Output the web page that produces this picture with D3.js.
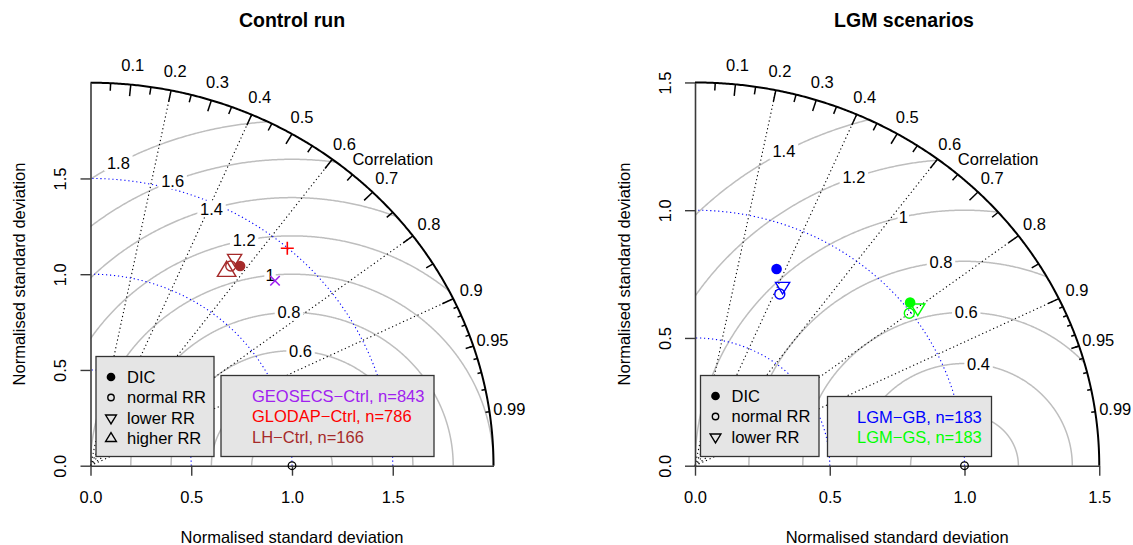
<!DOCTYPE html>
<html>
<head>
<meta charset="utf-8">
<script src="https://cdn.jsdelivr.net/npm/d3@7"></script>
<style>
  body { margin: 0; background: #fff; }
  svg { display: block; }
  text { font-family: "Liberation Sans", Arial, Helvetica, sans-serif; }
</style>
</head>
<body>
<svg id="chart" width="1133" height="545"></svg>
<script>
// ---- Control run: normalised standard deviation and correlation of each comparison
const ctrlLegend = ["GEOSECS−Ctrl, n=843", "GLODAP−Ctrl, n=786", "LH−Ctrl, n=166"];
const ctrlColors = ["#A020F0", "#FF0000", "#A52A2A"];
const ctrlSet    = [0, 1, 2, 2, 2, 2];
const ctrlKind   = ["cross", "plus", "dic", "normal", "lower", "higher"];
const ctrlSD     = [1.331, 1.498, 1.280, 1.254, 1.298, 1.2195];
const ctrlCor    = [0.688, 0.652, 0.580, 0.555, 0.551, 0.554];

// ---- LGM scenarios
const lgmLegend = ["LGM−GB, n=183", "LGM−GS, n=183"];
const lgmColors = ["#0000FF", "#00FF00"];
const lgmSet    = [0, 0, 0, 1, 1, 1];
const lgmKind   = ["dic", "normal", "lower", "dic", "normal", "lower"];
const lgmSD     = [0.827, 0.742, 0.774, 1.022, 0.994, 1.032];
const lgmCor    = [0.366, 0.424, 0.420, 0.781, 0.800, 0.801];

// symbol legend entries
const symbolNames = { dic: "DIC", normal: "normal RR", lower: "lower RR", higher: "higher RR" };

// grid values
const ctrlGamma = [0.2, 0.4, 0.6, 0.8, 1.0, 1.2, 1.4, 1.6, 1.8];
const lgmGamma  = [0.2, 0.4, 0.6, 0.8, 1.0, 1.2, 1.4];
const ctrlSdArcs = [0.5, 1.0, 1.5];
const lgmSdArcs  = [0.5, 1.0];
const sdTicks = [0, 0.5, 1.0, 1.5];
const corRays  = [0.2, 0.4, 0.6, 0.8, 0.9];
const corBig   = [0.1, 0.2, 0.3, 0.4, 0.5, 0.6, 0.7, 0.8, 0.9];
const corMed   = [0.05, 0.15, 0.25, 0.35, 0.45, 0.55, 0.65, 0.75, 0.85, 0.95];
const corSmall = [0.91, 0.92, 0.93, 0.94, 0.95, 0.96, 0.97, 0.98, 0.99];
const corLabels = [0.1, 0.2, 0.3, 0.4, 0.5, 0.6, 0.7, 0.8, 0.9, 0.95, 0.99];

const FS = 16.5;
const svg = d3.select("#chart");
const defs = svg.append("defs");
const line = d3.line();

function marker(sel, kind, color, s) {
  // s = symbol radius in px
  const w = 1.42 * s, up = 1.555 * s, dn = 0.778 * s;
  if (kind === "dic") {
    sel.append("circle").attr("r", s * 1.06).attr("fill", color);
  } else if (kind === "normal") {
    sel.append("circle").attr("r", s).attr("fill", "none").attr("stroke", color).attr("stroke-width", 1.4);
  } else if (kind === "lower") {
    sel.append("path").attr("d", line([[-w, -dn], [w, -dn], [0, up]]) + "Z")
      .attr("fill", "none").attr("stroke", color).attr("stroke-width", 1.4).attr("stroke-linejoin", "miter");
  } else if (kind === "higher") {
    sel.append("path").attr("d", line([[0, -up], [w, dn], [-w, dn]]) + "Z")
      .attr("fill", "none").attr("stroke", color).attr("stroke-width", 1.4).attr("stroke-linejoin", "miter");
  } else if (kind === "plus") {
    const a = 1.3 * s;
    sel.append("path").attr("d", `M${-a},0H${a}M0,${-a}V${a}`).attr("stroke", color).attr("stroke-width", 1.6);
  } else if (kind === "cross") {
    const a = 0.95 * s;
    sel.append("path").attr("d", `M${-a},${-a}L${a},${a}M${-a},${a}L${a},${-a}`).attr("stroke", color).attr("stroke-width", 1.6);
  }
}

const inside = (px, py, r) => px >= r.x && px <= r.x + r.w && py >= r.y && py <= r.y + r.h;

function taylorPanel(cfg) {
  const g = svg.append("g");
  const x = d3.scaleLinear().domain([0, cfg.maxsd]).range([cfg.x0, cfg.x0 + cfg.maxsd * cfg.kx]);
  const y = d3.scaleLinear().domain([0, cfg.maxsd]).range([cfg.y0, cfg.y0 - cfg.maxsd * cfg.ky]);
  const polar = (r, a) => [x(r * Math.cos(a)), y(r * Math.sin(a))];

  const rim = d3.range(0, 361).map(i => polar(cfg.maxsd, i / 360 * Math.PI / 2));
  defs.append("clipPath").attr("id", "clip-" + cfg.id)
    .append("path").attr("d", line(rim.concat([[x(0), y(0)]])) + "Z");

  // centred RMS difference contours around the reference point
  const arcs = g.append("g").attr("clip-path", `url(#clip-${cfg.id})`);
  cfg.gamma.forEach(gm => {
    const pts = d3.range(0, 721).map(i => {
      const t = i / 720 * Math.PI;
      return [x(cfg.ref + gm * Math.cos(t)), y(gm * Math.sin(t))];
    });
    arcs.append("path").attr("d", line(pts)).attr("fill", "none")
      .attr("stroke", "#bebebe").attr("stroke-width", 1.5);
  });

  // correlation rays
  corRays.forEach(c => {
    const [ex, ey] = polar(cfg.maxsd, Math.acos(c));
    g.append("line").attr("x1", x(0)).attr("y1", y(0)).attr("x2", ex).attr("y2", ey)
      .attr("stroke", "#000").attr("stroke-width", 1.1).attr("stroke-dasharray", "1.2 2.8");
  });

  // standard deviation arcs
  cfg.sdArcs.forEach(s => {
    const pts = d3.range(0, 361).map(i => polar(s, i / 360 * Math.PI / 2));
    g.append("path").attr("d", line(pts)).attr("fill", "none")
      .attr("stroke", "#0000FF").attr("stroke-width", 1.1).attr("stroke-dasharray", "1.2 2.8");
  });

  // contour labels on white boxes (those that the legends cover are left out)
  const n = cfg.gamma.length;
  cfg.gamma.forEach((gm, i) => {
    const pos = Math.floor(45 + 25 * i / (n - 1));
    const t = (pos - 1) * 0.03;
    const lx = x(cfg.ref + gm * Math.cos(t)), ly = y(gm * Math.sin(t));
    if (inside(lx, ly, cfg.legend1) || inside(lx, ly, cfg.legend2)) return;
    const lg = g.append("g").attr("transform", `translate(${lx},${ly})`);
    const rect = lg.append("rect").attr("fill", "#fff");
    const tx = lg.append("text").attr("text-anchor", "middle").attr("dy", "0.35em")
      .attr("font-size", FS).text(String(+gm.toFixed(1)));
    const bb = tx.node().getBBox();
    rect.attr("x", -bb.width * 0.62).attr("width", bb.width * 1.24)
      .attr("y", -8).attr("height", 16);
  });

  // correlation rim with ticks
  g.append("path").attr("d", line(rim)).attr("fill", "none").attr("stroke", "#000").attr("stroke-width", 2);
  [[corBig, 0.03], [corMed, 0.02], [corSmall, 0.01]].forEach(([vals, f]) => {
    vals.forEach(c => {
      const a = Math.acos(c);
      const [x1, y1] = polar(cfg.maxsd, a), [x2, y2] = polar(cfg.maxsd * (1 - f), a);
      g.append("line").attr("x1", x1).attr("y1", y1).attr("x2", x2).attr("y2", y2)
        .attr("stroke", "#000").attr("stroke-width", 1.5);
    });
  });
  corLabels.forEach(c => {
    const [lx, ly] = polar(cfg.maxsd * 1.05, Math.acos(c));
    g.append("text").attr("x", lx).attr("y", ly).attr("dy", "0.35em").attr("text-anchor", "middle")
      .attr("font-size", FS).text(String(c));
  });
  g.append("text").attr("x", x(cfg.maxsd * 0.75)).attr("y", y(cfg.maxsd * 0.8)).attr("dy", "0.35em")
    .attr("text-anchor", "middle").attr("font-size", FS).text("Correlation");

  // axes
  const fmt = d3.format(".1f");
  const ax = g.append("g").attr("transform", `translate(0,${cfg.y0})`)
    .call(d3.axisBottom(x).tickValues(sdTicks).tickFormat(fmt).tickSize(10).tickSizeOuter(0).tickPadding(16));
  const ay = g.append("g").attr("transform", `translate(${cfg.x0},0)`)
    .call(d3.axisLeft(y).tickValues(sdTicks).tickFormat(fmt).tickSize(10).tickSizeOuter(0));
  [ax, ay].forEach(a => {
    a.attr("font-size", FS).attr("font-family", null);
    a.select(".domain").attr("stroke", "#3a3a3a").attr("stroke-width", 1.6);
    a.selectAll(".tick line").attr("stroke", "#3a3a3a").attr("stroke-width", 1.4);
    a.selectAll(".tick text").attr("fill", "#000");
  });
  ay.selectAll(".tick text").attr("x", 0).attr("y", 0).attr("dy", "0.35em")
    .attr("text-anchor", "middle").attr("transform", "translate(-30,0) rotate(-90)");

  g.append("text").attr("x", x(cfg.maxsd / 2)).attr("y", 537).attr("dy", "0.35em")
    .attr("text-anchor", "middle").attr("font-size", FS).text("Normalised standard deviation");
  g.append("text").attr("transform", `translate(${cfg.x0 - 71},274) rotate(-90)`).attr("dy", "0.35em")
    .attr("text-anchor", "middle").attr("font-size", FS).text("Normalised standard deviation");
  g.append("text").attr("x", cfg.titleX).attr("y", 20).attr("dy", "0.35em")
    .attr("text-anchor", "middle").attr("font-size", 19.5).attr("font-weight", "bold").text(cfg.title);

  // reference point
  g.append("circle").attr("cx", x(cfg.ref)).attr("cy", y(0)).attr("r", 3.8)
    .attr("fill", "none").attr("stroke", "#000").attr("stroke-width", 1.3);

  // model-data comparisons
  cfg.sd.forEach((s, i) => {
    const a = Math.acos(cfg.cor[i]);
    const [px, py] = polar(s, a);
    const m = g.append("g").attr("transform", `translate(${px},${py})`);
    marker(m, cfg.kind[i], cfg.colors[cfg.set[i]], cfg.kind[i] === "higher" ? 6.5 : 5);
  });

  // symbol legend
  const L1 = cfg.legend1;
  g.append("rect").attr("x", L1.x).attr("y", L1.y).attr("width", L1.w).attr("height", L1.h)
    .attr("fill", "#e5e5e5").attr("stroke", "#333").attr("stroke-width", 1.3);
  L1.kinds.forEach((k, i) => {
    const yy = L1.y + 20.5 + i * 20.5;
    const m = g.append("g").attr("transform", `translate(${L1.x + 15},${yy})`);
    if (k === "normal") marker(m, k, "#000", 3.2);
    else if (k === "dic") marker(m, k, "#000", 4.1);
    else marker(m, k, "#000", 3.8);
    g.append("text").attr("x", L1.x + 31).attr("y", yy).attr("dy", "0.35em")
      .attr("font-size", FS).text(symbolNames[k]);
  });

  // dataset legend
  const L2 = cfg.legend2;
  g.append("rect").attr("x", L2.x).attr("y", L2.y).attr("width", L2.w).attr("height", L2.h)
    .attr("fill", "#e5e5e5").attr("stroke", "#333").attr("stroke-width", 1.3);
  cfg.names.forEach((nm, i) => {
    g.append("text").attr("x", L2.x + L2.pad).attr("y", L2.y + 20.3 + i * 20.5).attr("dy", "0.35em")
      .attr("font-size", FS).attr("fill", cfg.colors[i]).text(nm);
  });
}

taylorPanel({
  id: "ctrl", title: "Control run", titleX: 292,
  maxsd: 2.0, ref: 1.0, x0: 90.5, kx: 201.5, y0: 465.7, ky: 191.5,
  gamma: ctrlGamma, sdArcs: ctrlSdArcs,
  sd: ctrlSD, cor: ctrlCor, kind: ctrlKind, set: ctrlSet, colors: ctrlColors, names: ctrlLegend,
  legend1: { x: 96, y: 356.5, w: 118, h: 100, kinds: ["dic", "normal", "lower", "higher"] },
  legend2: { x: 221, y: 375.5, w: 213, h: 81, pad: 31 }
});

taylorPanel({
  id: "lgm", title: "LGM scenarios", titleX: 904,
  maxsd: 1.5, ref: 1.0, x0: 695, kx: 269.5, y0: 465.7, ky: 255.5,
  gamma: lgmGamma, sdArcs: lgmSdArcs,
  sd: lgmSD, cor: lgmCor, kind: lgmKind, set: lgmSet, colors: lgmColors, names: lgmLegend,
  legend1: { x: 700.5, y: 375.5, w: 118.5, h: 81, kinds: ["dic", "normal", "lower"] },
  legend2: { x: 827.5, y: 396.5, w: 164, h: 60, pad: 29.5 }
});
</script>
</body>
</html>
